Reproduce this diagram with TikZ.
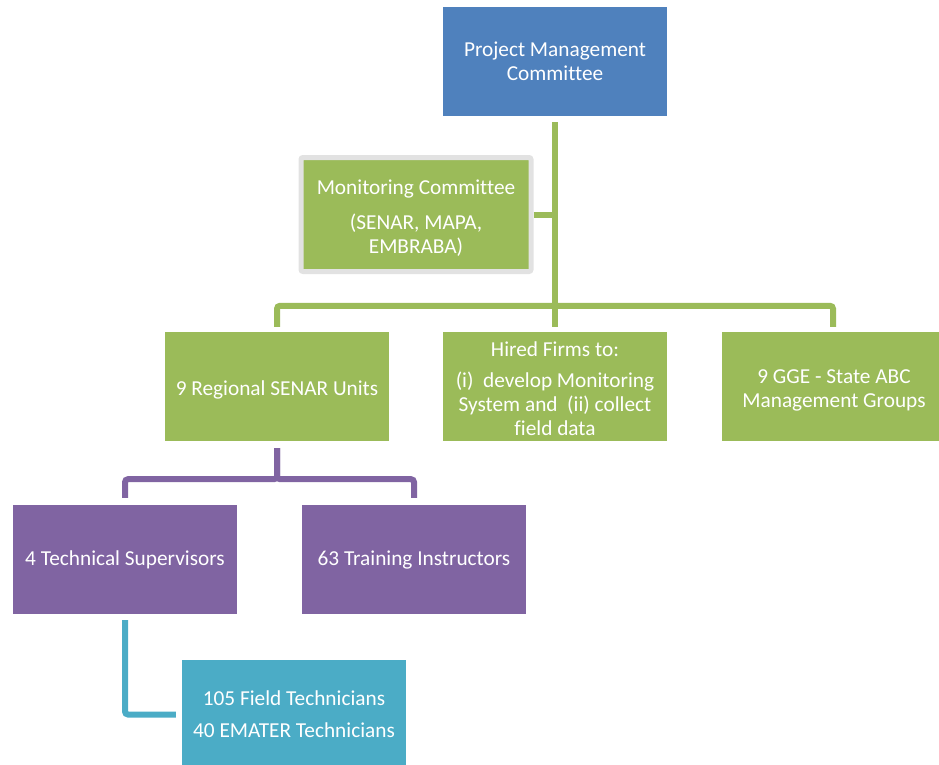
\documentclass[tikz,border=0pt]{standalone}
\usepackage{fontspec}
\setmainfont{Carlito}[Ligatures=NoCommon]
\definecolor{pmblue}{HTML}{4F81BD}
\definecolor{pmgreen}{HTML}{9BBB59}
\definecolor{pmpurple}{HTML}{8064A2}
\definecolor{pmteal}{HTML}{4BACC6}
\definecolor{pmgray}{HTML}{E2E2E2}
% strut that lowers the text block of a box a little
\newcommand{\lowerstrut}[1]{\rule{0pt}{#1}}
\begin{document}
\begin{tikzpicture}[x=1pt,y=-1pt,
  box/.style={minimum width=224pt, minimum height=109pt, inner sep=0pt,
    text=white, align=center, font=\fontsize{21.3}{24}\selectfont},
  bluebox/.style={box, fill=pmblue},
  greenbox/.style={box, fill=pmgreen},
  purplebox/.style={box, fill=pmpurple},
  tealbox/.style={box, fill=pmteal},
  link/.style={line width=6pt, rounded corners=3pt},
  glink/.style={link, draw=pmgreen},
  plink/.style={link, draw=pmpurple},
  tlink/.style={link, draw=pmteal}]
\useasboundingbox (0,0) rectangle (939,765);

% boxes
\node[bluebox] (pmc) at (555,61.5) {Project Management\\Committee};
\node[greenbox, minimum width=230pt, minimum height=114pt, draw=pmgray,
  line width=5pt, rounded corners=2pt] (mc) at (416,214.5)
  {\lowerstrut{21pt}Monitoring Committee\\[11pt](SENAR, MAPA,\\EMBRABA)};
\node[greenbox] (senar) at (277,386.5) {\lowerstrut{21pt}9 Regional SENAR Units};
\node[greenbox] (hired) at (555,386.5)
  {\lowerstrut{20pt}Hired Firms to:\\[7pt](i)~~develop Monitoring\\System and~~(ii) collect\\field data};
\node[greenbox] (gge) at (834,386.5) {\lowerstrut{21.5pt}9 GGE - State ABC\\Management Groups};
\node[purplebox] (sup) at (125,559.5) {4 Technical Supervisors};
\node[purplebox] (instr) at (414,559.5) {63 Training Instructors};
\node[tealbox] (field) at (294,714.5) {105 Field Technicians\\[8pt]40 EMATER Technicians};

% green tree below the committee
\draw[glink] ([yshift=-6pt]pmc.south) -- ([yshift=5pt]hired.north);
\draw[glink] ([yshift=5pt]senar.north) |- ([yshift=26pt]hired.north)
  -| ([xshift=-1pt,yshift=5pt]gge.north);
\draw[glink] (mc.east) -- (mc.east -| pmc.south);

% purple branch
\draw[plink] ([yshift=-7pt]senar.south) -- ++(0,31) -| ([yshift=7pt]sup.north);
\draw[plink] ([yshift=-7pt]senar.south) -- ++(0,31) -| ([yshift=7pt]instr.north);

% teal branch
\draw[tlink] ([yshift=-6pt]sup.south) |- ([xshift=-6pt]field.west);
\end{tikzpicture}
\end{document}
